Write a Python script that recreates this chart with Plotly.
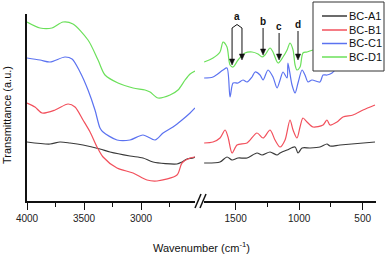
import plotly.graph_objects as go

# ---------------- data (wavenumber cm-1, transmittance a.u.) ----------------
series_names = ["BC-A1", "BC-B1", "BC-C1", "BC-D1"]
series_colors = ["#3a3a3a", "#f2505c", "#5b72f0", "#6be05a"]

# high-wavenumber region (4000 - 2500)
hi_wn_A1 = [4000, 3798, 3711, 3623, 3509, 3360, 3272, 3097, 2983, 2895, 2685, 2641, 2597, 2544, 2527]
hi_A1 = [59, 57, 59, 58, 56, 52, 49, 45, 43, 39, 37, 39, 42, 43, 44]

hi_wn_B1 = [4000, 3930, 3868, 3754, 3640, 3579, 3509, 3447, 3386, 3333, 3211, 3070, 2948, 2860, 2685, 2641, 2570, 2527]
hi_B1 = [98, 94, 88, 91, 97, 94, 81, 69, 54, 44, 33, 28, 21, 20, 26, 38, 43, 44]

hi_wn_C1 = [4000, 3886, 3798, 3667, 3605, 3535, 3465, 3404, 3360, 3333, 3211, 3097, 2983, 2877, 2807, 2720, 2641, 2570, 2527]
hi_C1 = [143, 141, 139, 144, 142, 129, 111, 91, 73, 69, 61, 61, 66, 61, 68, 74, 81, 88, 93]

hi_wn_D1 = [4000, 3886, 3781, 3684, 3597, 3465, 3377, 3316, 3202, 3070, 2965, 2921, 2851, 2746, 2676, 2614, 2570, 2527]
hi_D1 = [179, 173, 173, 179, 177, 161, 141, 126, 118, 113, 111, 109, 103, 106, 111, 121, 127, 130]

# fingerprint region (1750 - 400)
lo_wn_A1 = [1748, 1623, 1568, 1528, 1481, 1410, 1332, 1292, 1229, 1174, 1150, 1095, 1032, 1009, 977, 915, 836, 781, 757, 678, 403]
lo_A1 = [38, 39, 44, 41, 43, 43, 48, 46, 49, 46, 48, 51, 54, 48, 53, 53, 54, 57, 55, 56, 59]

lo_wn_B1 = [1748, 1678, 1623, 1583, 1560, 1528, 1489, 1410, 1332, 1284, 1229, 1190, 1150, 1111, 1072, 1048, 1017, 993, 970, 938, 891, 812, 781, 757, 702, 655, 576, 497, 403]
lo_B1 = [58, 59, 63, 71, 64, 48, 56, 58, 68, 63, 71, 61, 54, 61, 81, 71, 63, 74, 83, 79, 74, 76, 81, 76, 79, 84, 86, 91, 96]

lo_wn_C1 = [1748, 1678, 1599, 1568, 1544, 1520, 1481, 1442, 1410, 1371, 1347, 1308, 1284, 1245, 1206, 1174, 1150, 1127, 1095, 1088, 1056, 1032, 1009, 977, 954, 930, 899, 836, 812, 781, 741, 702, 600, 403]
lo_C1 = [123, 124, 131, 133, 104, 118, 118, 121, 119, 124, 129, 126, 121, 131, 124, 113, 121, 129, 123, 138, 116, 108, 118, 131, 126, 119, 121, 119, 126, 126, 128, 133, 140, 146]

lo_wn_D1 = [1748, 1678, 1623, 1599, 1568, 1544, 1520, 1481, 1426, 1371, 1324, 1292, 1269, 1229, 1206, 1166, 1127, 1095, 1072, 1048, 1032, 1017, 993, 970, 938, 891, 750, 600, 403]
lo_D1 = [139, 143, 149, 159, 154, 136, 134, 141, 148, 149, 147, 144, 146, 153, 149, 138, 144, 151, 158, 151, 136, 131, 134, 148, 149, 151, 153, 156, 160]

# band markers (cm-1) and arrow extents (a.u.)
band_labels = ["a", "b", "c", "d"]
band_a_wn = [1528, 1450]
band_a_head = [136, 141]
band_bcd_wn = [1284, 1158, 1009]
band_bcd_head = [146, 141, 141]

x_left_ticks = [4000, 3500, 3000]
x_left_minor = [3750, 3250, 2750]
x_right_ticks = [1500, 1000, 500]
x_right_minor = [1250, 750]

# ---------------- figure ----------------
hi_wn = [hi_wn_A1, hi_wn_B1, hi_wn_C1, hi_wn_D1]
hi_y = [hi_A1, hi_B1, hi_C1, hi_D1]
lo_wn = [lo_wn_A1, lo_wn_B1, lo_wn_C1, lo_wn_D1]
lo_y = [lo_A1, lo_B1, lo_C1, lo_D1]

fig = go.Figure()
for i, name in enumerate(series_names):
    fig.add_trace(go.Scatter(x=hi_wn[i], y=hi_y[i], mode="lines", name=name,
                             line=dict(color=series_colors[i], width=1.2, shape="spline", smoothing=0.8),
                             xaxis="x", yaxis="y", showlegend=False))
for i, name in enumerate(series_names):
    fig.add_trace(go.Scatter(x=lo_wn[i], y=lo_y[i], mode="lines", name=name,
                             line=dict(color=series_colors[i], width=1.2, shape="spline", smoothing=0.8),
                             xaxis="x2", yaxis="y", showlegend=False))

PX_W = 349.0
PX_H = 187.0


def px(xp):
    return (xp - 27) / PX_W


def py(yp):
    return (201 - yp) / PX_H


left_end = px(195)
right_start = px(204)

FONT = "Liberation Sans, Arial, sans-serif"
tickfont = dict(family=FONT, size=10, color="#222")
common_x = dict(showline=True, linecolor="#111", linewidth=1.5, ticks="outside", ticklen=7,
                tickwidth=1.3, tickcolor="#111", showgrid=False, zeroline=False, tickfont=tickfont)

fig.update_layout(
    width=387, height=255,
    margin=dict(l=27, r=11, t=14, b=54, autoexpand=False),
    paper_bgcolor="white", plot_bgcolor="white",
    xaxis=dict(domain=[0, left_end], range=[4000, 2527], tickvals=x_left_ticks,
               minor=dict(tickvals=x_left_minor, ticks="outside", ticklen=4, tickwidth=1.3, tickcolor="#111"),
               anchor="y", **common_x),
    xaxis2=dict(domain=[right_start, 1], range=[1749, 395], tickvals=x_right_ticks,
                minor=dict(tickvals=x_right_minor, ticks="outside", ticklen=4, tickwidth=1.3, tickcolor="#111"),
                anchor="y", **common_x),
    yaxis=dict(range=[0, 187], showline=True, linecolor="#111", linewidth=1.5, showticklabels=False,
               ticks="", showgrid=False, zeroline=False, anchor="x"),
    showlegend=False,
)

# legend box (drawn as layout decoration so it matches the compact original)
fig.add_shape(type="rect", xref="paper", yref="paper", x0=px(313), x1=px(384), y0=py(71), y1=py(2),
              fillcolor="white", line=dict(color="#333", width=1), layer="above")
legend_rows = [16, 30, 43.5, 57]
for name, color, yr in zip(series_names, series_colors, legend_rows):
    fig.add_shape(type="line", xref="paper", yref="paper", x0=px(322), x1=px(347), y0=py(yr), y1=py(yr),
                  line=dict(color=color, width=1.5), layer="above")
    fig.add_annotation(text=name, xref="paper", yref="paper", x=px(347.5), y=py(yr),
                       xanchor="left", yanchor="middle", showarrow=False, borderpad=0,
                       font=dict(family=FONT, size=11, color="#111"))

# axis titles
fig.add_annotation(text="Wavenumber (cm<sup>-1</sup>)", xref="paper", yref="paper",
                   x=0.5, y=py(247), yanchor="middle", showarrow=False,
                   font=dict(family=FONT, size=11, color="#111"))
fig.add_annotation(text="Transmittance (a.u.)", xref="paper", yref="paper", textangle=-90,
                   x=px(7), y=py(115), xanchor="center", yanchor="middle",
                   showarrow=False, font=dict(family=FONT, size=11, color="#111"))

# axis break marks
for x0 in [195, 200]:
    fig.add_shape(type="line", xref="paper", yref="paper",
                  x0=px(x0), y0=py(208), x1=px(x0 + 6), y1=py(194),
                  line=dict(color="#111", width=1.5))

labfont = dict(family=FONT, size=10, color="#111")


def arrow_head(wn, yv):
    # small filled downward triangle whose tip sits at (wn, yv)
    fig.add_shape(type="path", xref="x2", yref="y", xsizemode="pixel", ysizemode="pixel",
                  xanchor=wn, yanchor=yv, path="M-2.6,6 L2.6,6 L0,0 Z",
                  fillcolor="#111", line=dict(color="#111", width=0.5))


# band a: two arrows joined by a caret
tail_a = 173
apex_wn = (band_a_wn[0] + band_a_wn[1]) / 2
for wn, head in zip(band_a_wn, band_a_head):
    fig.add_shape(type="line", xref="x2", yref="y", x0=wn, y0=tail_a, x1=wn, y1=head + 3,
                  line=dict(color="#111", width=1))
    arrow_head(wn, head)
    fig.add_shape(type="line", xref="x2", yref="y", x0=wn, y0=tail_a, x1=apex_wn, y1=176.5,
                  line=dict(color="#111", width=1))
fig.add_annotation(x=apex_wn, y=177, xref="x2", yref="y", text="<b>a</b>", showarrow=False,
                   yanchor="bottom", font=labfont)

# bands b, c, d: label above the tail of each arrow
tails = [173, 168, 170]
for lab, wn, head, tail in zip(band_labels[1:], band_bcd_wn, band_bcd_head, tails):
    fig.add_shape(type="line", xref="x2", yref="y", x0=wn, y0=tail, x1=wn, y1=head + 3,
                  line=dict(color="#111", width=1))
    arrow_head(wn, head)
    fig.add_annotation(x=wn, y=tail + 0.5, xref="x2", yref="y", text="<b>%s</b>" % lab,
                       showarrow=False, yanchor="bottom", borderpad=0, font=labfont)

fig.write_html("out.html", config={"displayModeBar": False},
               post_script="document.body.style.margin='0';document.body.style.overflow='hidden';")
